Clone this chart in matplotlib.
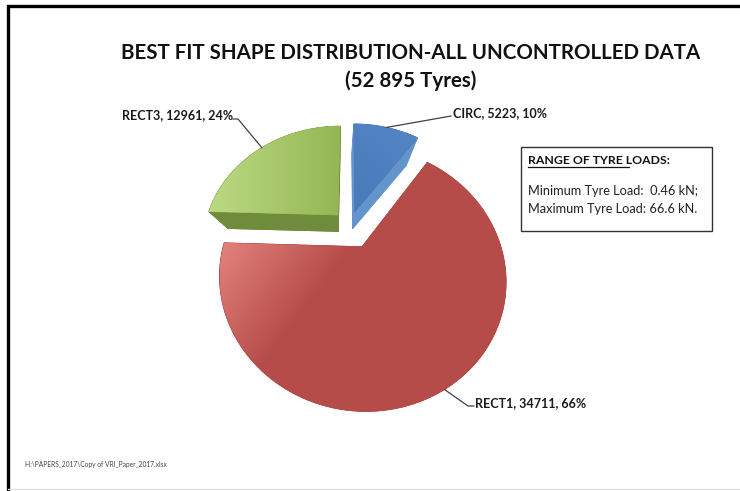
import numpy as np
import matplotlib.pyplot as plt
from matplotlib.colors import to_rgb
from matplotlib.patches import Polygon, Rectangle
from matplotlib.collections import PolyCollection

# Best-fit shape counts (clockwise from 12 o'clock)
shapes = ['CIRC', 'RECT1', 'RECT3']
counts = [5223, 34711, 12961]
pct_labels = [10, 66, 24]
explode = [0.13, 0.20, 0.13]

top_light = ['#5587c6', '#e4847f', '#bcdb84']
top_dark = ['#4779b8', '#b64c49', '#95b654']
side_colors = ['#6494cc', '#ad4744', '#6f8c3c']

title = 'BEST FIT SHAPE DISTRIBUTION-ALL UNCONTROLLED DATA\n(52 895 Tyres)'
box_title = 'RANGE OF TYRE LOADS:'
box_lines = ['Minimum Tyre Load:  0.46 kN;', 'Maximum Tyre Load: 66.6 kN.']
source_note = 'H:\\PAPERS_2017\\Copy of VRI_Paper_2017.xlsx'

W, H = 740, 491
fig = plt.figure(figsize=(W / 100, H / 100), dpi=100)
ax = fig.add_axes([0, 0, 1, 1])

# perspective view of the pie disc (pixel units)
cx, cy = 349.7, 225.4
a, b, k = 133.0, 114.0, 0.235
vp = np.array([340.0, 328.0])   # point the slab sides shrink towards
shrink = 0.855


def project(u, v):
    d = 1 + k * v
    return np.column_stack([cx + a * u / d, cy - b * v / d])


def gradient_fill(poly_xy, c0, c1, origin, direction, length, zorder):
    # solid base so no gaps show at the clipped edge
    ax.add_patch(Polygon(poly_xy, closed=True, facecolor=c1, edgecolor=c1,
                         lw=0.5, zorder=zorder))
    x0, y0 = poly_xy.min(axis=0)
    x1, y1 = poly_xy.max(axis=0)
    X, Y = np.meshgrid(np.linspace(x0, x1, 200), np.linspace(y0, y1, 200))
    t = ((X - origin[0]) * direction[0] + (Y - origin[1]) * direction[1]) / length
    t = np.clip(t, 0, 1)[..., None]
    img = np.array(to_rgb(c0)) * (1 - t) + np.array(to_rgb(c1)) * t
    im = ax.imshow(img, extent=(x0, x1, y1, y0), origin='upper',
                   interpolation='bilinear', zorder=zorder + 0.5, aspect='auto')
    clip = Polygon(poly_xy, closed=True, facecolor='none', edgecolor='none',
                   transform=ax.transData)
    ax.add_patch(clip)
    im.set_clip_path(clip)


fracs = np.array(counts) / sum(counts)
starts = 90 - 360 * np.concatenate([[0], np.cumsum(fracs)[:-1]])
mids = []
slices = []
for i, f in enumerate(fracs):
    t1 = starts[i]
    t2 = t1 - 360 * f
    tm = np.radians((t1 + t2) / 2)
    ox, oy = explode[i] * np.cos(tm), explode[i] * np.sin(tm)
    th = np.radians(np.linspace(t1, t2, 120))
    u = np.concatenate([[ox], ox + np.cos(th)])
    v = np.concatenate([[oy], oy + np.sin(th)])
    slices.append(project(u, v))
    mids.append(project(np.array([ox + np.cos(tm)]), np.array([oy + np.sin(tm)]))[0])

# gradient direction for each top face
grad = {
    0: ((425, 125), (-0.6, 0.8), 120),
    1: ((215, 245), (0.8, 0.6), 110),
    2: ((205, 150), (1, 0), 135),
}

# back slices first, the big front slice last
order = [2, 0, 1]
for n_draw, i in enumerate(order):
    top = slices[i]
    bot = vp + shrink * (top - vp)
    n = len(top)
    quads = [[top[j], top[(j + 1) % n], bot[(j + 1) % n], bot[j]] for j in range(n)]
    z = 2 + 3 * n_draw
    side = PolyCollection(quads + [bot], facecolors=side_colors[i],
                          edgecolors=side_colors[i], linewidths=0.6, zorder=z)
    ax.add_collection(side)
    o, d, ln = grad[i]
    gradient_fill(top, top_light[i], top_dark[i], o, d, ln, z + 1)

# data labels with leader lines
lab = [f'{s}, {c}, {p}%' for s, c, p in zip(shapes, counts, pct_labels)]
lab_font = dict(fontsize=9.0, fontweight='bold', color='#1a1a1a', family='Lato', va='center')
lc = dict(color='#404040', lw=0.9, zorder=12)

m = mids[0]
ax.plot([m[0], 451], [m[1], 116], **lc)
ax.text(453, 113, lab[0], ha='left', **lab_font)

m = mids[2]
ax.plot([m[0], 238, 233], [m[1], 119, 119], **lc)
ax.text(233, 115, lab[2], ha='right', **lab_font)

m = mids[1]
ax.plot([m[0], 468, 474], [m[1], 406, 406], **lc)
ax.text(475, 403, lab[1], ha='left', **lab_font)

# title
ax.text(411, 67, title, ha='center', va='center', fontsize=14.8, fontweight='bold',
        family='Lato', color='#111111', linespacing=1.45)

# load range box
ax.add_patch(Rectangle((521, 147), 191, 84, facecolor='white', edgecolor='#333333',
                       lw=1.0, zorder=12))
t = ax.text(528, 160, box_title, ha='left', va='center', fontsize=8.8, fontweight='bold',
            family='Lato', color='#111111', zorder=13)
fig.canvas.draw()
bb = t.get_window_extent().transformed(ax.transData.inverted())
ax.plot([bb.x0, bb.x1], [167, 167], color='#111111', lw=0.9, zorder=13)
for j, line in enumerate(box_lines):
    ax.text(528, 191 + 18 * j, line, ha='left', va='center', fontsize=9.2,
            family='Lato', color='#222222', zorder=13)

# source note
ax.text(25, 465, source_note, ha='left', va='center', fontsize=4.8, family='Lato',
        color='#444444')

# outer frame
ax.plot([8, 8, W], [H, 6, 6], color='black', lw=2.4, solid_joinstyle='miter', zorder=20)
ax.plot([8, W], [489, 489], color='#dddddd', lw=1.0, zorder=20)

ax.set_xlim(0, W)
ax.set_ylim(H, 0)
ax.axis('off')

fig.savefig('out.png', dpi=100, facecolor='white')
